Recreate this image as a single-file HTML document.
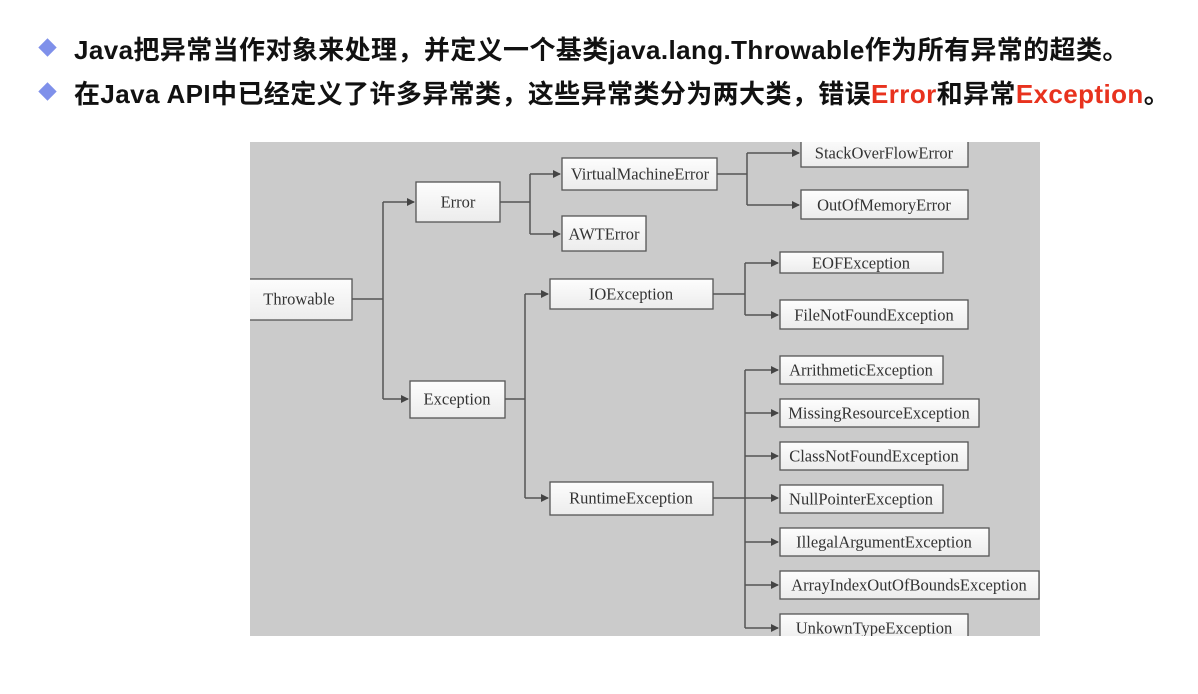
<!DOCTYPE html>
<html><head><meta charset="utf-8"><style>
body{margin:0;width:1198px;height:694px;background:#fff;position:relative;overflow:hidden}
.h{position:absolute;left:74px;font:bold 26px "Liberation Sans","Noto Sans CJK SC",sans-serif;color:#111;white-space:nowrap;letter-spacing:0.4px}
.d{position:absolute;left:41px;width:13px;height:13px;background:#7f90ea;transform:rotate(45deg)}
.r{color:#e8321e}
svg{position:absolute;left:0;top:0}
text{font-family:"Liberation Serif",serif;font-size:16.5px;fill:#333;dominant-baseline:central;text-anchor:middle}
rect.b{fill:url(#g);stroke:#555;stroke-width:1.3}
path{stroke:#555;stroke-width:1.5;fill:none}
</style></head><body>
<div class="d" style="top:41px"></div>
<div class="h" style="top:30px">Java把异常当作对象来处理，并定义一个基类java.lang.Throwable作为所有异常的超类。</div>
<div class="d" style="top:85px"></div>
<div class="h" style="top:74px">在Java API中已经定义了许多异常类，这些异常类分为两大类，错误<span class="r">Error</span>和异常<span class="r">Exception</span>。</div>
<svg width="1198" height="694">
<defs>
<linearGradient id="g" x1="0" y1="0" x2="0" y2="1"><stop offset="0" stop-color="#fdfdfd"/><stop offset="1" stop-color="#ececec"/></linearGradient>
<marker id="a" markerWidth="8" markerHeight="8" refX="7" refY="4" orient="auto" markerUnits="userSpaceOnUse"><path d="M0,0 L8,4 L0,8 z" style="fill:#444;stroke:none"/></marker>
<clipPath id="c"><rect x="250" y="142" width="790" height="494"/></clipPath>
</defs>
<rect x="250" y="142" width="790" height="494" fill="#cbcbcb"/>
<g clip-path="url(#c)">
<path d="M352,299 H383 M383,202 V399"/>
<path d="M383,202 H414" marker-end="url(#a)"/>
<path d="M383,399 H408" marker-end="url(#a)"/>
<path d="M500,202 H530 M530,174 V234"/>
<path d="M530,174 H560" marker-end="url(#a)"/>
<path d="M530,234 H560" marker-end="url(#a)"/>
<path d="M717,174 H747 M747,153 V205"/>
<path d="M747,153 H799" marker-end="url(#a)"/>
<path d="M747,205 H799" marker-end="url(#a)"/>
<path d="M505,399 H525 M525,294 V498"/>
<path d="M525,294 H548" marker-end="url(#a)"/>
<path d="M525,498 H548" marker-end="url(#a)"/>
<path d="M713,294 H745 M745,263 V315"/>
<path d="M745,263 H778" marker-end="url(#a)"/>
<path d="M745,315 H778" marker-end="url(#a)"/>
<path d="M745,370 V628"/>
<path d="M713,498 H778" marker-end="url(#a)"/>
<path d="M745,370 H778" marker-end="url(#a)"/>
<path d="M745,413 H778" marker-end="url(#a)"/>
<path d="M745,456 H778" marker-end="url(#a)"/>
<path d="M745,542 H778" marker-end="url(#a)"/>
<path d="M745,585 H778" marker-end="url(#a)"/>
<path d="M745,628 H778" marker-end="url(#a)"/>
<rect class="b" x="240" y="279" width="112" height="41"/><text x="299" y="299">Throwable</text>
<rect class="b" x="416" y="182" width="84" height="40"/><text x="458" y="202">Error</text>
<rect class="b" x="562" y="158" width="155" height="32"/><text x="640" y="174">VirtualMachineError</text>
<rect class="b" x="562" y="216" width="84" height="35"/><text x="604" y="234">AWTError</text>
<rect class="b" x="801" y="136" width="167" height="31"/><text x="884" y="153">StackOverFlowError</text>
<rect class="b" x="801" y="190" width="167" height="29"/><text x="884" y="205">OutOfMemoryError</text>
<rect class="b" x="410" y="381" width="95" height="37"/><text x="457" y="399">Exception</text>
<rect class="b" x="550" y="279" width="163" height="30"/><text x="631" y="294">IOException</text>
<rect class="b" x="780" y="252" width="163" height="21"/><text x="861" y="263">EOFException</text>
<rect class="b" x="780" y="300" width="188" height="29"/><text x="874" y="315">FileNotFoundException</text>
<rect class="b" x="550" y="482" width="163" height="33"/><text x="631" y="498">RuntimeException</text>
<rect class="b" x="780" y="356" width="163" height="28"/><text x="861" y="370">ArrithmeticException</text>
<rect class="b" x="780" y="399" width="199" height="28"/><text x="879" y="413">MissingResourceException</text>
<rect class="b" x="780" y="442" width="188" height="28"/><text x="874" y="456">ClassNotFoundException</text>
<rect class="b" x="780" y="485" width="163" height="28"/><text x="861" y="499">NullPointerException</text>
<rect class="b" x="780" y="528" width="209" height="28"/><text x="884" y="542">IllegalArgumentException</text>
<rect class="b" x="780" y="571" width="259" height="28"/><text x="909" y="585">ArrayIndexOutOfBoundsException</text>
<rect class="b" x="780" y="614" width="188" height="28"/><text x="874" y="628">UnkownTypeException</text>
</g>
</svg>
</body></html>
